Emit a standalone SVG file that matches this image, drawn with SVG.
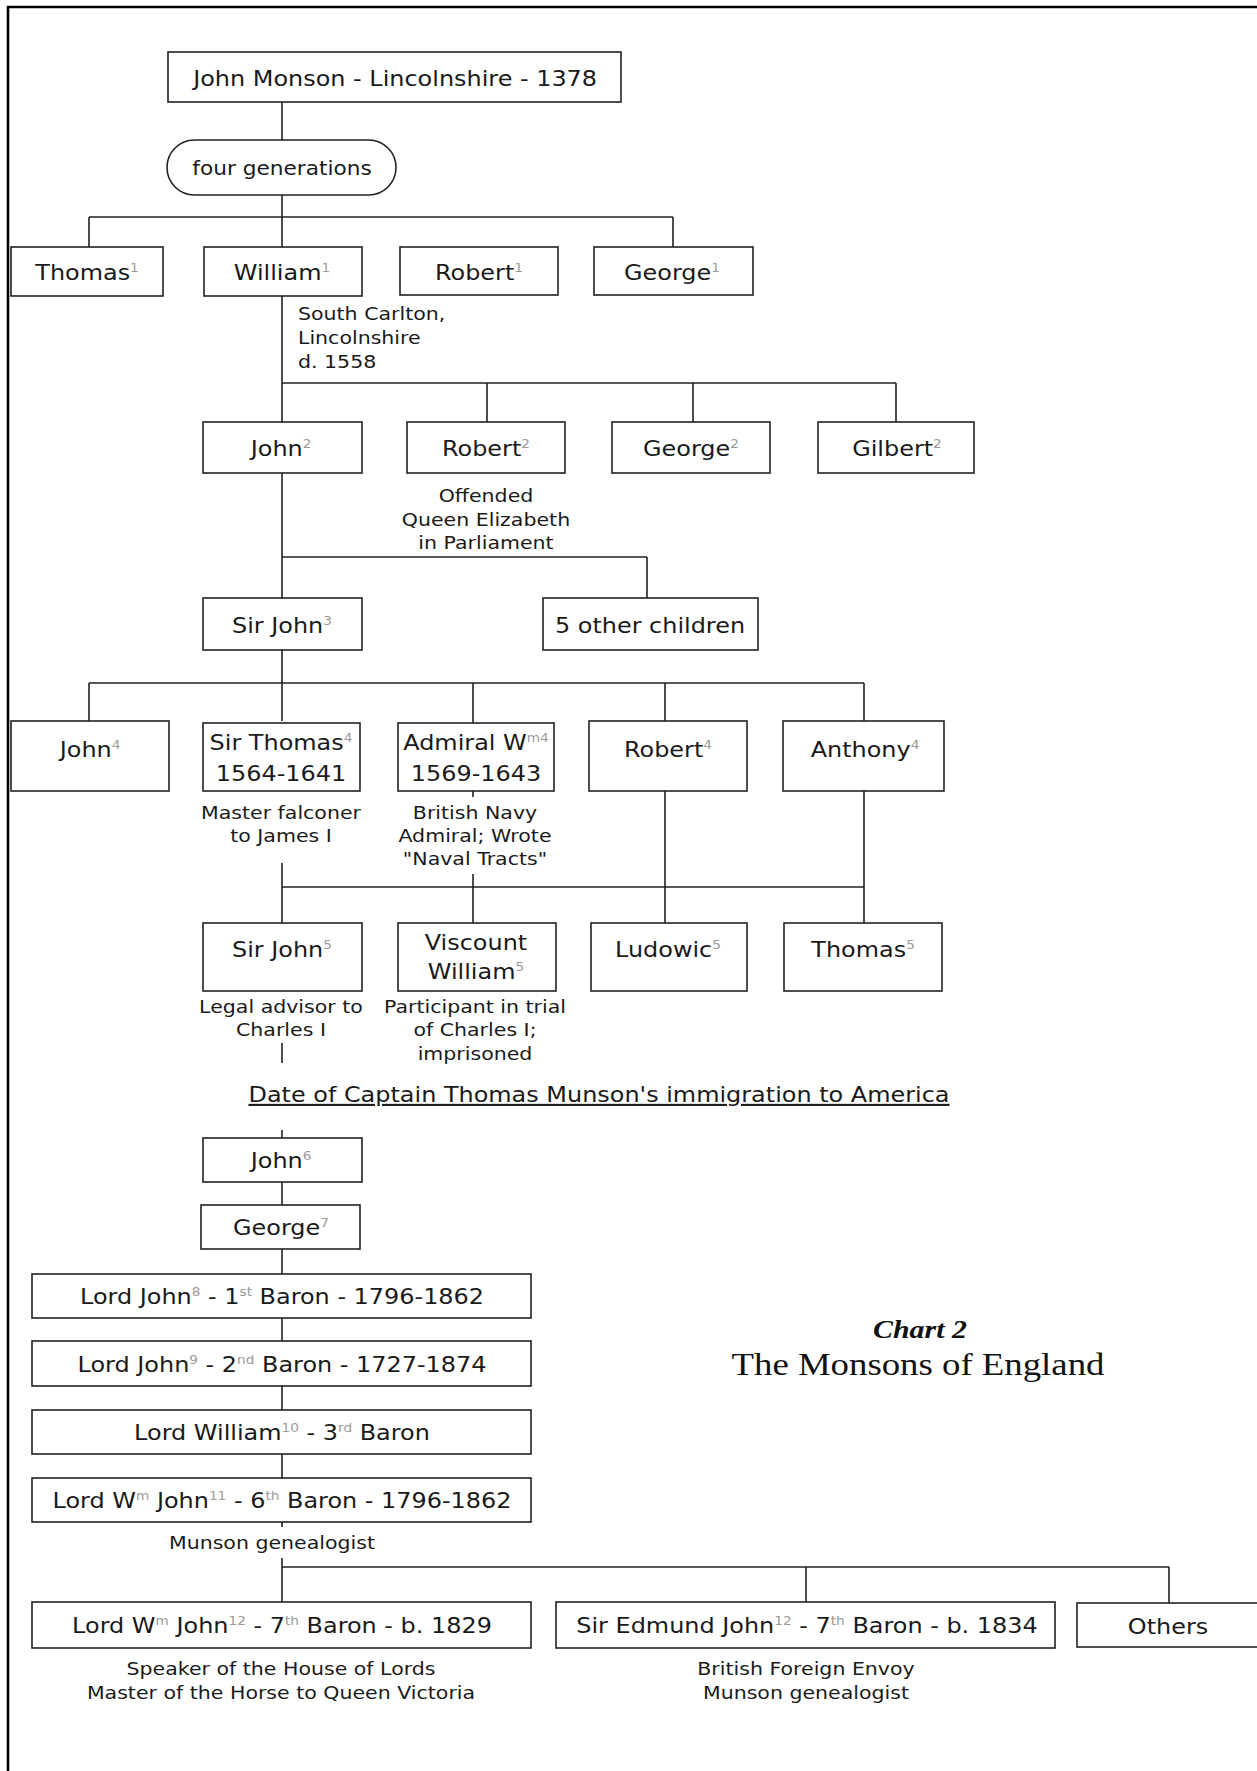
<svg xmlns="http://www.w3.org/2000/svg" width="1257" height="1771" viewBox="0 0 1257 1771">
  <style>
    .box { fill: #fff; stroke: #222; stroke-width: 1.6; }
    .wire { fill: none; stroke: #222; stroke-width: 1.6; }
    .frame { fill: none; stroke: #000; stroke-width: 2.6; }
    .t { font-family: "DejaVu Sans", Verdana, sans-serif; font-size: 21px; fill: #1a1a1a; text-anchor: middle;
         transform-box: fill-box; transform-origin: center; transform: scaleX(1.14); }
    .n { font-size: 18px; }
    .pill { font-size: 19px; }
    .l { text-anchor: start; transform-origin: left; }
    .s { font-size: 12px; fill: #9a9a9a; }
    .u { text-decoration: underline; }
    .h1 { font-family: "Liberation Serif", "Times New Roman", serif; font-size: 26px; font-style: italic; font-weight: bold; fill: #111; text-anchor: middle;
          transform-box: fill-box; transform-origin: center; transform: scaleX(1.15); }
    .h2 { font-family: "Liberation Serif", "Times New Roman", serif; font-size: 32px; fill: #111; text-anchor: middle;
          transform-box: fill-box; transform-origin: center; transform: scaleX(1.15); }
  </style>
  <rect width="1257" height="1771" fill="#fff"/>
  <path class="frame" d="M7 7H1257M8 6V1771"/>

  <g id="connectors">
    <path class="wire" d="M282 102V140M282 195V217M89 217H673M89 217V247M282 217V247M673 217V247
      M282 296V422M282 383H896M487 383V422M693 383V422M896 383V422
      M282 473V598M282 557H647M647 557V598
      M282 650V721M89 683H864M89 683V721M473 683V723M665 683V721M864 683V721
      M473 791V797M282 863V923M473 874V923M665 791V923M864 791V923M282 887H864
      M282 1043V1063
      M282 1130V1138M282 1182V1205M282 1249V1274M282 1318V1341M282 1386V1410M282 1454V1478
      M282 1522V1527M282 1558V1602M282 1567H1169M806 1567V1602M1169 1567V1603"/>
  </g>

  <g id="john-monson">
    <rect class="box" x="168" y="52" width="453" height="50"/>
    <text class="t" x="395" y="86">John Monson - Lincolnshire - 1378</text>
  </g>
  <g id="four-generations">
    <rect class="box" x="167" y="140" width="229" height="55" rx="27.5"/>
    <text class="t pill" x="282" y="175">four generations</text>
  </g>

  <g id="thomas1">
    <rect class="box" x="11" y="247" width="152" height="49"/>
    <text class="t" x="87" y="280">Thomas<tspan class="s" dy="-8">1</tspan></text>
  </g>
  <g id="william1">
    <rect class="box" x="204" y="247" width="158" height="49"/>
    <text class="t" x="282" y="280">William<tspan class="s" dy="-8">1</tspan></text>
    <text class="t n l" x="298" y="320">South Carlton,</text>
    <text class="t n l" x="298" y="344">Lincolnshire</text>
    <text class="t n l" x="298" y="368">d. 1558</text>
  </g>
  <g id="robert1">
    <rect class="box" x="400" y="247" width="158" height="48"/>
    <text class="t" x="479" y="280">Robert<tspan class="s" dy="-8">1</tspan></text>
  </g>
  <g id="george1">
    <rect class="box" x="594" y="247" width="159" height="48"/>
    <text class="t" x="672" y="280">George<tspan class="s" dy="-8">1</tspan></text>
  </g>

  <g id="john2">
    <rect class="box" x="203" y="422" width="159" height="51"/>
    <text class="t" x="281" y="456">John<tspan class="s" dy="-8">2</tspan></text>
  </g>
  <g id="robert2">
    <rect class="box" x="407" y="422" width="158" height="51"/>
    <text class="t" x="486" y="456">Robert<tspan class="s" dy="-8">2</tspan></text>
    <text class="t n" x="486" y="502">Offended</text>
    <text class="t n" x="486" y="526">Queen Elizabeth</text>
    <text class="t n" x="486" y="549">in Parliament</text>
  </g>
  <g id="george2">
    <rect class="box" x="612" y="422" width="158" height="51"/>
    <text class="t" x="691" y="456">George<tspan class="s" dy="-8">2</tspan></text>
  </g>
  <g id="gilbert2">
    <rect class="box" x="818" y="422" width="156" height="51"/>
    <text class="t" x="897" y="456">Gilbert<tspan class="s" dy="-8">2</tspan></text>
  </g>

  <g id="sir-john3">
    <rect class="box" x="203" y="598" width="159" height="52"/>
    <text class="t" x="282" y="633">Sir John<tspan class="s" dy="-8">3</tspan></text>
  </g>
  <g id="other-children">
    <rect class="box" x="543" y="598" width="215" height="52"/>
    <text class="t" x="650" y="633">5 other children</text>
  </g>

  <g id="john4">
    <rect class="box" x="11" y="721" width="158" height="70"/>
    <text class="t" x="90" y="757">John<tspan class="s" dy="-8">4</tspan></text>
  </g>
  <g id="sir-thomas4">
    <rect class="box" x="203" y="723" width="157" height="68"/>
    <text class="t" x="281" y="750">Sir Thomas<tspan class="s" dy="-8">4</tspan></text>
    <text class="t" x="281" y="781">1564-1641</text>
    <text class="t n" x="281" y="819">Master falconer</text>
    <text class="t n" x="281" y="842">to James I</text>
  </g>
  <g id="admiral-william4">
    <rect class="box" x="398" y="723" width="156" height="68"/>
    <text class="t" x="476" y="750">Admiral W<tspan class="s" dy="-8">m4</tspan></text>
    <text class="t" x="476" y="781">1569-1643</text>
    <text class="t n" x="475" y="819">British Navy</text>
    <text class="t n" x="475" y="842">Admiral; Wrote</text>
    <text class="t n" x="475" y="865">"Naval Tracts"</text>
  </g>
  <g id="robert4">
    <rect class="box" x="589" y="721" width="158" height="70"/>
    <text class="t" x="668" y="757">Robert<tspan class="s" dy="-8">4</tspan></text>
  </g>
  <g id="anthony4">
    <rect class="box" x="783" y="721" width="161" height="70"/>
    <text class="t" x="865" y="757">Anthony<tspan class="s" dy="-8">4</tspan></text>
  </g>

  <g id="sir-john5">
    <rect class="box" x="203" y="923" width="159" height="68"/>
    <text class="t" x="282" y="957">Sir John<tspan class="s" dy="-8">5</tspan></text>
    <text class="t n" x="281" y="1013">Legal advisor to</text>
    <text class="t n" x="281" y="1036">Charles I</text>
  </g>
  <g id="viscount-william5">
    <rect class="box" x="398" y="923" width="158" height="68"/>
    <text class="t" x="476" y="950">Viscount</text>
    <text class="t" x="476" y="979">William<tspan class="s" dy="-8">5</tspan></text>
    <text class="t n" x="475" y="1013">Participant in trial</text>
    <text class="t n" x="475" y="1036">of Charles I;</text>
    <text class="t n" x="475" y="1060">imprisoned</text>
  </g>
  <g id="ludowic5">
    <rect class="box" x="591" y="923" width="156" height="68"/>
    <text class="t" x="668" y="957">Ludowic<tspan class="s" dy="-8">5</tspan></text>
  </g>
  <g id="thomas5">
    <rect class="box" x="784" y="923" width="158" height="68"/>
    <text class="t" x="863" y="957">Thomas<tspan class="s" dy="-8">5</tspan></text>
  </g>

  <g id="immigration-note">
    <text class="t u" x="599" y="1102">Date of Captain Thomas Munson's immigration to America</text>
  </g>

  <g id="john6">
    <rect class="box" x="203" y="1138" width="159" height="44"/>
    <text class="t" x="281" y="1168">John<tspan class="s" dy="-8">6</tspan></text>
  </g>
  <g id="george7">
    <rect class="box" x="201" y="1205" width="159" height="44"/>
    <text class="t" x="281" y="1235">George<tspan class="s" dy="-8">7</tspan></text>
  </g>
  <g id="lord-john8">
    <rect class="box" x="32" y="1274" width="499" height="44"/>
    <text class="t" x="282" y="1304">Lord John<tspan class="s" dy="-8">8</tspan><tspan dy="8"> - 1</tspan><tspan class="s" dy="-8">st</tspan><tspan dy="8"> Baron - 1796-1862</tspan></text>
  </g>
  <g id="lord-john9">
    <rect class="box" x="32" y="1341" width="499" height="45"/>
    <text class="t" x="282" y="1372">Lord John<tspan class="s" dy="-8">9</tspan><tspan dy="8"> - 2</tspan><tspan class="s" dy="-8">nd</tspan><tspan dy="8"> Baron - 1727-1874</tspan></text>
  </g>
  <g id="lord-william10">
    <rect class="box" x="32" y="1410" width="499" height="44"/>
    <text class="t" x="282" y="1440">Lord William<tspan class="s" dy="-8">10</tspan><tspan dy="8"> - 3</tspan><tspan class="s" dy="-8">rd</tspan><tspan dy="8"> Baron</tspan></text>
  </g>
  <g id="lord-william-john11">
    <rect class="box" x="32" y="1478" width="499" height="44"/>
    <text class="t" x="282" y="1508">Lord W<tspan class="s" dy="-8">m</tspan><tspan dy="8"> John</tspan><tspan class="s" dy="-8">11</tspan><tspan dy="8"> - 6</tspan><tspan class="s" dy="-8">th</tspan><tspan dy="8"> Baron - 1796-1862</tspan></text>
    <text class="t n" x="272" y="1549">Munson genealogist</text>
  </g>

  <g id="lord-william-john12">
    <rect class="box" x="32" y="1602" width="499" height="46"/>
    <text class="t" x="282" y="1633">Lord W<tspan class="s" dy="-8">m</tspan><tspan dy="8"> John</tspan><tspan class="s" dy="-8">12</tspan><tspan dy="8"> - 7</tspan><tspan class="s" dy="-8">th</tspan><tspan dy="8"> Baron - b. 1829</tspan></text>
    <text class="t n" x="281" y="1675">Speaker of the House of Lords</text>
    <text class="t n" x="281" y="1699">Master of the Horse to Queen Victoria</text>
  </g>
  <g id="sir-edmund-john12">
    <rect class="box" x="556" y="1602" width="499" height="46"/>
    <text class="t" x="807" y="1633">Sir Edmund John<tspan class="s" dy="-8">12</tspan><tspan dy="8"> - 7</tspan><tspan class="s" dy="-8">th</tspan><tspan dy="8"> Baron - b. 1834</tspan></text>
    <text class="t n" x="806" y="1675">British Foreign Envoy</text>
    <text class="t n" x="806" y="1699">Munson genealogist</text>
  </g>
  <g id="others">
    <rect class="box" x="1077" y="1603" width="200" height="44"/>
    <text class="t" x="1168" y="1634">Others</text>
  </g>

  <g id="chart-title">
    <text class="h1" x="920" y="1338">Chart 2</text>
    <text class="h2" x="918" y="1375">The Monsons of England</text>
  </g>
</svg>
